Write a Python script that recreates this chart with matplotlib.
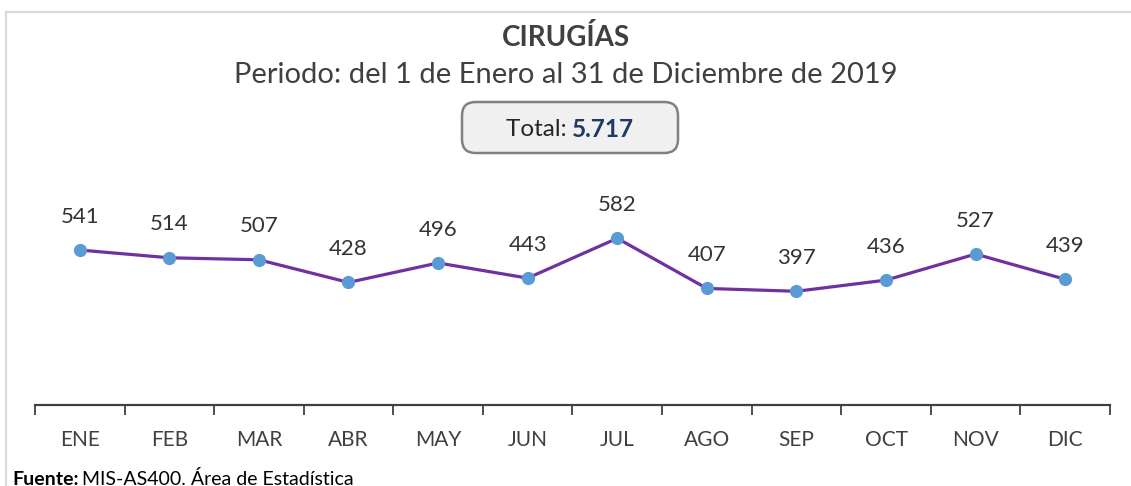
import matplotlib
matplotlib.use("Agg")
import matplotlib.pyplot as plt
from matplotlib.patches import FancyBboxPatch
from matplotlib.lines import Line2D

months = ["ENE", "FEB", "MAR", "ABR", "MAY", "JUN",
          "JUL", "AGO", "SEP", "OCT", "NOV", "DIC"]
cirugias = [541, 514, 507, 428, 496, 443, 582, 407, 397, 436, 527, 439]
total = "5.717"

plt.rcParams['font.family'] = ['Lato', 'DejaVu Sans']
grey = "#404040"

fig = plt.figure(figsize=(11.31, 4.86), dpi=100)
ax = fig.add_axes([0.0309, 0.1667, 0.9505, 0.4125])

x = list(range(len(months)))
ax.plot(x, cirugias, color="#7030A0", lw=2.3, zorder=2)
ax.plot(x, cirugias, ls="none", marker="o", ms=8.5, color="#5B9BD5", zorder=3)
for xi, v in zip(x, cirugias):
    ax.annotate(str(v), (xi, v), xytext=(0, 24), textcoords="offset points",
                ha="center", va="center", fontsize=16, color="#333333", annotation_clip=False)

ax.set_xlim(-0.5, len(months) - 0.5)
ax.set_ylim(0, 700)
ax.set_yticks([])
ax.set_xticks(x)
ax.set_xticklabels(months, fontsize=15, color=grey)
ax.set_xticks([i - 0.5 for i in range(len(months) + 1)], minor=True)
ax.tick_params(axis="x", which="major", length=0, pad=18)
ax.tick_params(axis="x", which="minor", length=7, width=1.3, color=grey, direction="out")
for s in ["top", "right", "left"]:
    ax.spines[s].set_visible(False)
ax.spines["bottom"].set_color(grey)
ax.spines["bottom"].set_linewidth(1.6)

# outer border of the chart area
fig.add_artist(Line2D([6 / 1131, 6 / 1131], [0, 1 - 12 / 486], transform=fig.transFigure,
                      color="#d9d9d9", lw=1.6))
fig.add_artist(Line2D([6 / 1131, 1], [1 - 12 / 486, 1 - 12 / 486], transform=fig.transFigure,
                      color="#d9d9d9", lw=1.6))

fig.text(0.5, 1 - 37 / 486, "CIRUGÍAS", ha="center", va="center",
         fontsize=20, fontweight="bold", color=grey)
fig.text(0.5, 1 - 75 / 486, "Periodo: del 1 de Enero al 31 de Diciembre de 2019",
         ha="center", va="center", fontsize=21, color=grey)

box = FancyBboxPatch((462 / 1131, 1 - 153 / 486), 216 / 1131, 51 / 486,
                     boxstyle="round,pad=0,rounding_size=0.012", transform=fig.transFigure,
                     facecolor="#f0f0f0", edgecolor="#808080", lw=1.8,
                     mutation_aspect=1131 / 486)
fig.add_artist(box)

renderer = fig.canvas.get_renderer()
t1 = fig.text(0, 1 - 129 / 486, "Total: ", ha="left", va="center", fontsize=17.5, color="#262626")
t2 = fig.text(0, 1 - 129 / 486, total, ha="left", va="center", fontsize=17.5,
              fontweight="bold", color="#1F3864")
w1 = t1.get_window_extent(renderer).width
w2 = t2.get_window_extent(renderer).width
x0 = (570 - (w1 + w2) / 2) / 1131
t1.set_x(x0)
t2.set_x(x0 + w1 / 1131)

f1 = fig.text(12 / 1131, 1 - 479 / 486, "Fuente:", ha="left", va="center",
              fontsize=14, fontweight="bold", color="black")
wf = f1.get_window_extent(renderer).width
fig.text((12 + wf + 4) / 1131, 1 - 479 / 486, "MIS-AS400. Área de Estadística",
         ha="left", va="center", fontsize=14, color="black")

fig.savefig("out.png", dpi=100)
